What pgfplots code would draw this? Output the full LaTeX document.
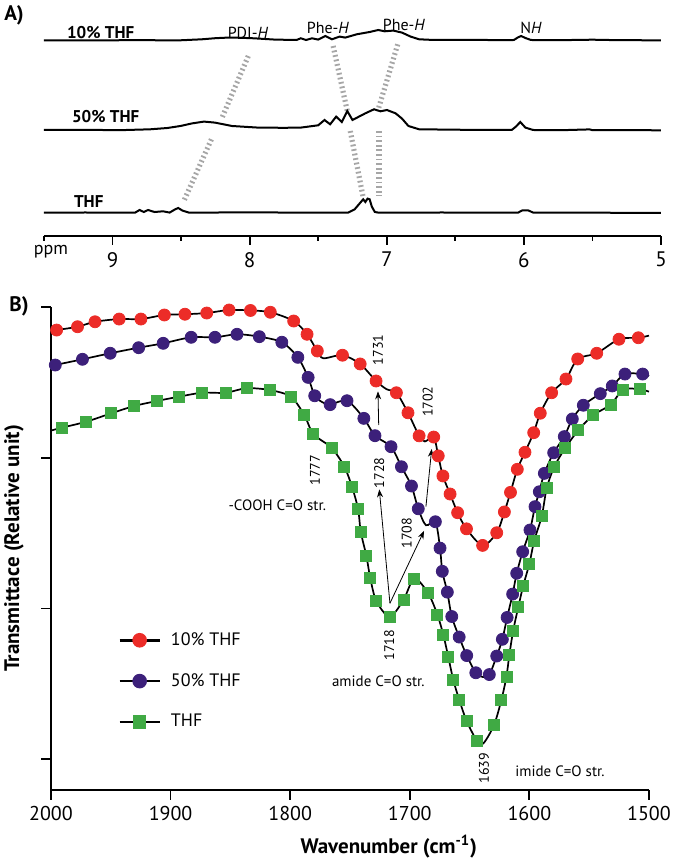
\documentclass[border=0pt]{standalone}
\usepackage{fontspec}
\setmainfont{PT Sans}
\usepackage{pgfplots}
\pgfplotsset{compat=1.18}
\usetikzlibrary{arrows.meta}
\definecolor{cred}{RGB}{236,44,40}
\definecolor{cpur}{RGB}{60,32,122}
\definecolor{cgrn}{RGB}{64,170,68}
\newcommand{\fs}[1]{\fontsize{#1}{#1}\selectfont}
\begin{document}
\begin{tikzpicture}
\useasboundingbox (0pt,0pt) rectangle (337.5pt,432pt);
% ---------------- Panel A ----------------
\begin{axis}[
  at={(22pt,314pt)}, anchor=south west,
  width=308.5pt, height=115pt, scale only axis,
  xmin=5, xmax=9.5, x dir=reverse, ymin=0, ymax=230,
  axis x line=bottom, axis y line=none,
  axis line style={-, line width=0.9pt},
  xtick={5,6,7,8,9}, minor xtick={5.5,6.5,7.5,8.5,9.5},
  major tick length=4.5pt, minor tick length=2.5pt,
  tick align=outside, tick style={line width=0.9pt, black},
  xticklabel style={font=\fs{10.5}},
  /pgf/number format/assume math mode=true,
  clip=false,
]
% dashed guides
\addplot[draw=gray!70, line width=2.6pt, dash pattern=on 0.9pt off 1.4pt] coordinates {(8.01,180) (8.201,118.4)};
\addplot[draw=gray!70, line width=2.6pt, dash pattern=on 0.9pt off 1.4pt] coordinates {(8.279,96.7) (8.48,35)};
\addplot[draw=gray!70, line width=2.6pt, dash pattern=on 0.9pt off 1.4pt] coordinates {(7.391,190) (7.288,125)};
\addplot[draw=gray!70, line width=2.6pt, dash pattern=on 0.9pt off 1.4pt] coordinates {(7.266,105) (7.172,38.4)};
\addplot[draw=gray!70, line width=2.6pt, dash pattern=on 0.9pt off 1.4pt] coordinates {(6.92,191.7) (7.062,126.7)};
\addplot[draw=gray!70, line width=2.6pt, dash pattern=on 0.9pt off 1.4pt] coordinates {(7.056,105) (7.056,40)};
% 10% THF
\addplot[black, line width=1pt] coordinates {
(9.50,195.7) (9.20,195.5) (8.90,195.8) (8.505,195.7) (8.348,196.7) (8.25,197.8) (8.16,198.4) (8.06,198.2) (7.97,197.7) (7.815,196.4) (7.658,196)
(7.627,197.7) (7.589,196) (7.545,197.7) (7.50,196.4) (7.448,200) (7.40,196.7) (7.344,199.4) (7.303,198.4)
(7.219,201.7) (7.125,204) (7.062,206) (7.015,204.7) (6.952,205.4) (6.889,203.4) (6.826,199.4) (6.764,196.7) (6.654,196)
(6.40,196.2) (6.20,195.9) (6.073,196) (6.042,198.7) (6.02,200) (5.989,198) (5.948,196) (5.70,195.9) (5.50,196.3) (5.30,195.8) (5.0,195.7)};
% 50% THF
\addplot[black, line width=1pt] coordinates {
(9.50,106) (9.20,106.2) (8.95,105.8) (8.725,106.7) (8.60,108) (8.505,110) (8.42,112.6) (8.333,114.4) (8.254,113.4) (8.129,110) (7.94,108.4) (7.75,108.2) (7.627,108.4)
(7.50,110.7) (7.454,116) (7.413,111.7) (7.369,119.4) (7.328,114) (7.288,125) (7.25,116) (7.156,122.7) (7.093,126.7) (7.046,124.7) (6.999,126)
(6.936,122.7) (6.889,117.4) (6.842,110) (6.764,106.7) (6.50,106.3) (6.30,106) (6.089,106) (6.058,109.4) (6.026,114) (5.989,108.4) (5.932,106)
(5.70,105.9) (5.52,106.6) (5.50,105.8) (5.30,105.9) (5.0,105.7)};
% THF
\addplot[black, line width=1pt] coordinates {
(9.50,23.4) (9.20,23.5) (8.835,23.4) (8.803,26) (8.772,24) (8.741,26) (8.694,24) (8.631,24.7) (8.584,23.4) (8.543,26.7) (8.521,28) (8.49,25.4) (8.443,23.4)
(8.00,23.6) (7.60,23.4) (7.281,23.4) (7.234,26.7) (7.203,31.7) (7.172,36.7) (7.156,34) (7.14,37.4) (7.125,36.7) (7.109,29.4) (7.087,24) (7.062,23.4)
(6.60,23.5) (6.042,23.4) (6.01,25.7) (5.97,25.7) (5.932,23.4) (5.50,23.3) (5.0,23.1)};
\end{axis}
\node[font=\bfseries\fs{10.5}] at (7pt,424.5pt) {A)};
\node[font=\bfseries\fs{8.5}, anchor=west] at (30pt,415.5pt) {10\% THF};
\node[font=\bfseries\fs{8.5}, anchor=west] at (32.5pt,373.5pt) {50\% THF};
\node[font=\bfseries\fs{8.5}, anchor=west] at (33.5pt,331pt) {THF};
\node[font=\fs{8}] at (124pt,415.5pt) {PDI-\textit{H}};
\node[font=\fs{8}] at (164pt,418pt) {Phe-\textit{H}};
\node[font=\fs{8}] at (202pt,419.5pt) {Phe-\textit{H}};
\node[font=\fs{8}] at (265.5pt,418pt) {N\textit{H}};
\node[font=\fs{9}] at (25.5pt,306pt) {ppm};
\node[font=\bfseries\fs{10.5}] at (9.5pt,279pt) {B)};
% ---------------- Panel B ----------------
\begin{axis}[
  at={(25.5pt,37pt)}, anchor=south west,
  width=299pt, height=241.5pt, scale only axis,
  xmin=1500, xmax=2000, x dir=reverse, ymin=0.795, ymax=4,
  axis x line=bottom, axis y line=left,
  axis line style={-, line width=0.9pt},
  xtick={1500,1600,1700,1800,1900,2000}, ytick={1,2,3,4}, yticklabels={},
  major tick length=4.75pt, tick align=outside, tick style={line width=0.9pt, black},
  xticklabel style={font=\fs{10}},
  /pgf/number format/1000 sep={},
  /pgf/number format/assume math mode=true,
  every axis x label/.style={at={(axis description cs:0.565,-0.118)}, anchor=center},
  every axis y label/.style={at={(axis description cs:-0.062,0.5)}, rotate=90, anchor=center},
  xlabel={\bfseries\fs{10.5}Wavenumber (cm\textsuperscript{-1})},
  ylabel={\bfseries\fs{10.5}Transmittace (Relative unit)},
  clip=false,
  legend style={draw=none, fill=none, at={(axis description cs:0.112,0.2257)}, anchor=west,
    font=\fs{9}, row sep=8.5pt, inner sep=0pt,
    /tikz/every odd column/.append style={column sep=3pt}},
  legend cell align=left,
  legend image code/.code={\draw[mark repeat=2,mark phase=2] plot coordinates {(0pt,0pt) (10pt,0pt) (20pt,0pt)};},
]
\addlegendimage{black, line width=1.3pt, mark=*, mark options={draw=cred, fill=cred, mark size=3pt}}
\addlegendentry{10\% THF}
\addlegendimage{black, line width=1.3pt, mark=*, mark options={draw=cpur, fill=cpur, mark size=3pt}}
\addlegendentry{50\% THF}
\addlegendimage{black, line width=1.3pt, mark=square*, mark options={draw=cgrn, fill=cgrn, mark size=2.75pt}}
\addlegendentry{THF}
% lines
\addplot[forget plot, black, line width=0.85pt, smooth, tension=0.5] coordinates {
(2000,3.840) (1995.3,3.847) (1977.8,3.869) (1963.2,3.902) (1943.0,3.920) (1924.8,3.920) (1905.2,3.947) (1888.0,3.952) (1869.8,3.960)
(1851.1,3.980) (1833.2,3.977) (1816.6,3.965) (1797.1,3.907) (1785.9,3.819) (1777.3,3.708) (1772.3,3.660) (1756.3,3.680) (1741.5,3.622)
(1728.2,3.509) (1719.3,3.454) (1711.2,3.431) (1701.5,3.298) (1692.2,3.145) (1687.3,3.108) (1680.0,3.137) (1676.2,3.012) (1672.3,2.879)
(1666.3,2.759) (1660.0,2.635) (1652.6,2.528) (1639.1,2.418) (1627.3,2.502) (1620.9,2.640) (1615.8,2.770) (1610.1,2.923) (1603.7,3.036)
(1596.4,3.166) (1590.9,3.295) (1581.4,3.431) (1569.4,3.522) (1559.6,3.655) (1543.7,3.693) (1525.1,3.786) (1508.9,3.796) (1500,3.810)};
\addplot[forget plot, black, line width=0.85pt, smooth, tension=0.5] coordinates {
(2000,3.605) (1996.4,3.615) (1973.7,3.653) (1950.5,3.693) (1926.7,3.730) (1906.2,3.759) (1882.8,3.799) (1862.9,3.799) (1844.5,3.819)
(1825.8,3.803) (1807.0,3.766) (1793.6,3.666) (1785.0,3.533) (1779.5,3.411) (1773.5,3.370) (1766.6,3.352) (1752.5,3.378) (1738.4,3.261)
(1729.1,3.146) (1715.7,3.073) (1707.0,2.940) (1698.6,2.812) (1692.9,2.661) (1686.5,2.552) (1678.6,2.575) (1674.7,2.400) (1672.8,2.246)
(1668.6,2.108) (1664.9,1.946) (1658.7,1.810) (1652.4,1.687) (1644.8,1.573) (1639.0,1.545) (1633.5,1.561) (1627.3,1.684) (1622.6,1.795)
(1618.6,1.940) (1614.0,2.095) (1610.6,2.233) (1605.6,2.376) (1599.5,2.520) (1595.3,2.675) (1591.7,2.774) (1587.5,2.896) (1579.7,3.033)
(1570.8,3.140) (1564.1,3.257) (1554.9,3.348) (1540.7,3.425) (1530.7,3.476) (1520.1,3.555) (1505.3,3.555) (1500,3.542)};
\addplot[forget plot, black, line width=0.85pt, smooth, tension=0.5] coordinates {
(2000,3.180) (1991.0,3.199) (1970.5,3.239) (1949.5,3.295) (1930.4,3.343) (1911.6,3.376) (1892.9,3.405) (1873.7,3.431) (1853.9,3.431)
(1836.6,3.461) (1817.0,3.449) (1799.5,3.405) (1788.2,3.283) (1780.6,3.157) (1765.5,3.066) (1754.7,2.940) (1748.2,2.804) (1743.2,2.658)
(1741.0,2.509) (1736.3,2.348) (1733.0,2.200) (1728.0,2.049) (1716.8,1.945) (1705.3,2.056) (1696.2,2.198) (1684.6,2.100) (1677.0,1.960)
(1672.0,1.826) (1667.8,1.678) (1663.6,1.525) (1658.6,1.392) (1652.4,1.252) (1643.6,1.118) (1638.4,1.105) (1629.6,1.226) (1623.5,1.390)
(1619.2,1.547) (1616.8,1.689) (1613.5,1.854) (1609.3,2.008) (1605.2,2.149) (1600.0,2.297) (1595.9,2.451) (1589.7,2.611) (1585.5,2.797)
(1579.4,2.936) (1570.2,3.062) (1559.1,3.182) (1546.6,3.283) (1532.0,3.352) (1521.5,3.452) (1507.5,3.454) (1500,3.438)};
% markers
\addplot[forget plot, only marks, mark=*, mark size=3pt, mark options={draw=cred, fill=cred}] coordinates {
(1995.3,3.847) (1977.8,3.869) (1963.2,3.902) (1943.0,3.920) (1924.8,3.920) (1905.2,3.947) (1888.0,3.952) (1869.8,3.960)
(1851.1,3.980) (1833.2,3.977) (1816.6,3.965) (1797.1,3.907) (1785.9,3.819) (1777.3,3.708) (1756.3,3.680) (1741.5,3.622)
(1728.2,3.509) (1711.2,3.431) (1701.5,3.298) (1692.2,3.145) (1680.0,3.137) (1676.2,3.012) (1672.3,2.879)
(1666.3,2.759) (1660.0,2.635) (1652.6,2.528) (1639.1,2.418) (1627.3,2.502) (1620.9,2.640) (1615.8,2.770) (1610.1,2.923) (1603.7,3.036)
(1596.4,3.166) (1590.9,3.295) (1581.4,3.431) (1569.4,3.522) (1559.6,3.655) (1543.7,3.693) (1525.1,3.786) (1508.9,3.796)};
\addplot[forget plot, only marks, mark=*, mark size=3pt, mark options={draw=cpur, fill=cpur}] coordinates {
(1996.4,3.615) (1973.7,3.653) (1950.5,3.693) (1926.7,3.730) (1906.2,3.759) (1882.8,3.799) (1862.9,3.799) (1844.5,3.819)
(1825.8,3.803) (1807.0,3.766) (1793.6,3.666) (1785.0,3.533) (1779.5,3.411) (1766.6,3.352) (1752.5,3.378) (1738.4,3.261)
(1729.1,3.146) (1715.7,3.073) (1707.0,2.940) (1698.6,2.812) (1692.9,2.661) (1678.6,2.575) (1674.7,2.400) (1672.8,2.246)
(1668.6,2.108) (1664.9,1.946) (1658.7,1.810) (1652.4,1.687) (1644.8,1.573) (1633.5,1.561) (1627.3,1.684) (1622.6,1.795)
(1618.6,1.940) (1614.0,2.095) (1610.6,2.233) (1605.6,2.376) (1599.5,2.520) (1595.3,2.675) (1591.7,2.774) (1587.5,2.896) (1579.7,3.033)
(1570.8,3.140) (1564.1,3.257) (1554.9,3.348) (1540.7,3.425) (1530.7,3.476) (1520.1,3.555) (1505.3,3.555)};
\addplot[forget plot, only marks, mark=square*, mark size=2.75pt, mark options={draw=cgrn, fill=cgrn}] coordinates {
(1991.0,3.199) (1970.5,3.239) (1949.5,3.295) (1930.4,3.343) (1911.6,3.376) (1892.9,3.405) (1873.7,3.431) (1853.9,3.431)
(1836.6,3.461) (1817.0,3.449) (1799.5,3.405) (1788.2,3.283) (1780.6,3.157) (1765.5,3.066) (1754.7,2.940) (1748.2,2.804) (1743.2,2.658)
(1741.0,2.509) (1736.3,2.348) (1733.0,2.200) (1728.0,2.049) (1716.8,1.945) (1705.3,2.056) (1696.2,2.198) (1684.6,2.100) (1677.0,1.960)
(1672.0,1.826) (1667.8,1.678) (1663.6,1.525) (1658.6,1.392) (1652.4,1.252) (1643.6,1.118) (1629.6,1.226) (1623.5,1.390)
(1619.2,1.547) (1616.8,1.689) (1613.5,1.854) (1609.3,2.008) (1605.2,2.149) (1600.0,2.297) (1595.9,2.451) (1589.7,2.611) (1585.5,2.797)
(1579.4,2.936) (1570.2,3.062) (1559.1,3.182) (1546.6,3.283) (1532.0,3.352) (1521.5,3.452) (1507.5,3.454)};
% annotations
\node[font=\fs{7}, rotate=90] at (axis cs:1726.5,3.715) {1731};
\node[font=\fs{7}, rotate=90] at (axis cs:1685,3.372) {1702};
\node[font=\fs{7}, rotate=90] at (axis cs:1779.3,2.918) {1777};
\node[font=\fs{7}, rotate=90] at (axis cs:1725.5,2.90) {1728};
\node[font=\fs{7}, rotate=90] at (axis cs:1702.6,2.498) {1708};
\node[font=\fs{7}, rotate=90] at (axis cs:1717.1,1.757) {1718};
\node[font=\fs{7}, rotate=90] at (axis cs:1638,0.939) {1639};
\node[font=\fs{7.5}] at (axis cs:1810.8,2.686) {-COOH C=O str.};
\node[font=\fs{7.5}] at (axis cs:1726.3,1.514) {amide C=O str.};
\node[font=\fs{7.5}, anchor=west] at (axis cs:1617.6,0.917) {imide C=O str.};
\draw[-{Stealth[length=4pt,width=3pt]}, line width=0.4pt] (axis cs:1726.0,3.217) -- (axis cs:1726.6,3.44);
\draw[-{Stealth[length=4pt,width=3pt]}, line width=0.4pt] (axis cs:1686.5,2.675) -- (axis cs:1681.7,3.058);
\draw[-{Stealth[length=4pt,width=3pt]}, line width=0.4pt] (axis cs:1716.6,2.034) -- (axis cs:1725.5,2.79);
\draw[-{Stealth[length=4pt,width=3pt]}, line width=0.4pt] (axis cs:1716.6,2.034) -- (axis cs:1688.1,2.514);
\end{axis}
\end{tikzpicture}
\end{document}
